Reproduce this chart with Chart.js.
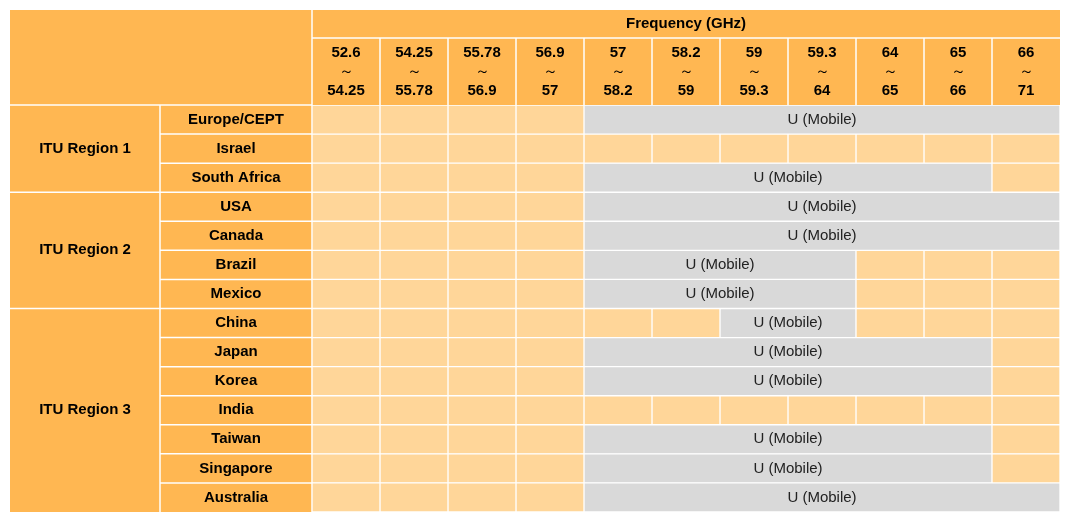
<!DOCTYPE html>
<html><head><meta charset="utf-8">
<script src="https://cdn.jsdelivr.net/npm/chart.js@4/dist/chart.umd.min.js"></script>
<style>html,body{margin:0;padding:0;background:#fff}#wrap{width:1071px;height:523px}</style>
</head><body><div id="wrap"><canvas id="c" width="1071" height="523"></canvas></div>
<script>
const countries = ["Europe/CEPT","Israel","South Africa","USA","Canada","Brazil","Mexico","China","Japan","Korea","India","Taiwan","Singapore","Australia"];
const regions = [["ITU Region 1",0,2],["ITU Region 2",3,6],["ITU Region 3",7,13]];
const bandLow  = ["52.6","54.25","55.78","56.9","57","58.2","59","59.3","64","65","66"];
const bandHigh = ["54.25","55.78","56.9","57","58.2","59","59.3","64","65","66","71"];
// mobile (U) span per country as [first band index, end band index], null = none
const mobileSpan = [[4,11],null,[4,10],[4,11],[4,11],[4,8],[4,8],[6,8],[4,10],[4,10],null,[4,10],[4,10],[4,11]];
const mobileLabel = "U (Mobile)";

const ORANGE="#FFB752", LIGHT="#FFD699", GRAY="#D9D9D9";
const datasets=[];
for(let c=0;c<bandLow.length;c++){
  datasets.push({data:countries.map((_,i)=>{const s=mobileSpan[i];return (s&&c>=s[0]&&c<s[1])?null:[c,c+1];}),
    backgroundColor:LIGHT,borderColor:"#fff",borderWidth:1,borderSkipped:false,grouped:false,barPercentage:1,categoryPercentage:1});
}
datasets.push({data:mobileSpan.map(s=>s?[s[0],s[1]]:null),backgroundColor:GRAY,borderColor:"#fff",borderWidth:1,borderSkipped:false,grouped:false,barPercentage:1,categoryPercentage:1,isMobile:true});

const F="'Liberation Sans', Arial, sans-serif";
const tablePlugin={id:"table",
 beforeDatasetsDraw(ch){
  const ctx=ch.ctx,x=ch.scales.x,y=ch.scales.y,a=ch.chartArea;
  const L=10,T=10,colR=160;
  ctx.save();
  ctx.fillStyle=ORANGE;
  ctx.fillRect(L,T,a.right-L,a.top-T);
  ctx.fillRect(L,a.top,a.left-L,a.bottom-a.top);
  ctx.strokeStyle="#fff";ctx.lineWidth=1.5;
  const line=(x1,y1,x2,y2)=>{ctx.beginPath();ctx.moveTo(x1,y1);ctx.lineTo(x2,y2);ctx.stroke();};
  line(a.left,T,a.left,a.bottom);
  line(a.left,38,a.right,38);
  line(L,a.top,a.left,a.top);
  for(let c=1;c<bandLow.length;c++){const px=x.getPixelForValue(c);line(px,38,px,a.top);}
  line(colR,a.top,colR,a.bottom);
  const rowH=(a.bottom-a.top)/countries.length;
  for(let i=1;i<countries.length;i++){const py=a.top+i*rowH;line(colR,py,a.left,py);}
  regions.forEach(r=>{if(r[1]>0){const py=a.top+r[1]*rowH;line(L,py,colR,py);}});
  ctx.fillStyle="#000";ctx.textAlign="center";ctx.textBaseline="middle";
  ctx.font="bold 15px "+F;
  ctx.fillText("Frequency (GHz)",(a.left+a.right)/2,24);
  for(let c=0;c<bandLow.length;c++){
    const cx=(x.getPixelForValue(c)+x.getPixelForValue(c+1))/2;
    ctx.font="bold 15px "+F;
    ctx.fillText(bandLow[c],cx,53);ctx.fillText(bandHigh[c],cx,91);
    ctx.font="15px "+F;ctx.fillText("～",cx,72);
  }
  ctx.font="bold 15px "+F;
  countries.forEach((n,i)=>ctx.fillText(n,(colR+a.left)/2,y.getPixelForValue(i)));
  regions.forEach(r=>ctx.fillText(r[0],(L+colR)/2,(y.getPixelForValue(r[1])+y.getPixelForValue(r[2]))/2));
  ctx.restore();
 },
 afterDatasetsDraw(ch){
  const ctx=ch.ctx;const di=ch.data.datasets.length-1;const meta=ch.getDatasetMeta(di);
  ctx.save();ctx.fillStyle="#222";ctx.font="15px "+F;ctx.textAlign="center";ctx.textBaseline="middle";
  meta.data.forEach((el,i)=>{if(mobileSpan[i]){const p=el.getProps(["x","base","y"],true);ctx.fillText(mobileLabel,(p.x+p.base)/2,p.y);}});
  ctx.restore();
 }};

new Chart(document.getElementById("c"),{type:"bar",
 data:{labels:countries,datasets},
 options:{indexAxis:"y",responsive:false,animation:false,devicePixelRatio:1,
  layout:{padding:{left:312,top:105,right:11,bottom:11}},
  scales:{x:{type:"linear",min:0,max:bandLow.length,display:false},y:{display:false,offset:true}},
  plugins:{legend:{display:false},tooltip:{enabled:false}}},
 plugins:[tablePlugin]});
</script></body></html>
